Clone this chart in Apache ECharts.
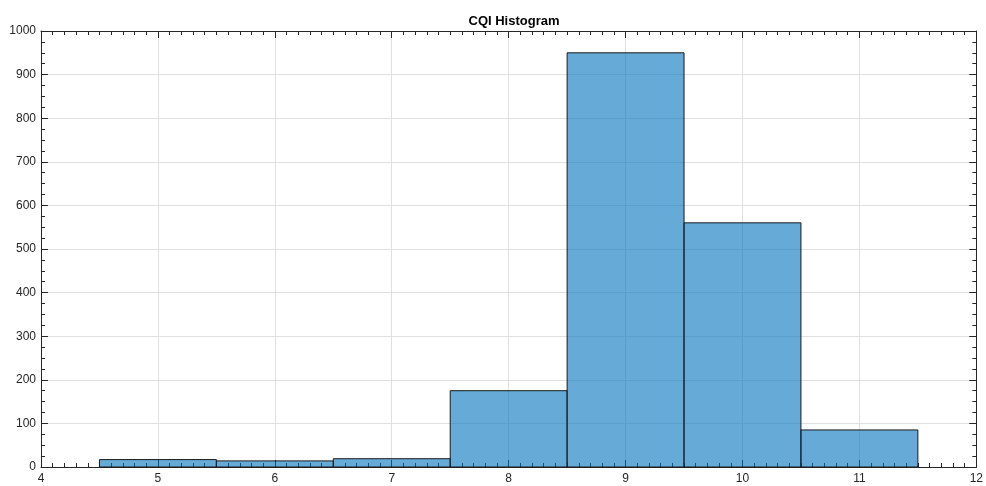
<!DOCTYPE html>
<html>
<head>
<meta charset="utf-8">
<script src="https://cdn.jsdelivr.net/npm/echarts@6/dist/echarts.min.js"></script>
<style>html,body{margin:0;padding:0;background:#fff}#c{width:986px;height:486px}</style>
</head>
<body>
<div id="c"></div>
<script>
var binCenters = [5, 6, 7, 8, 9, 10, 11];
var counts = [17, 14, 19, 175, 950, 560, 85];
var binWidth = 1;
var xTicks = [4, 5, 6, 7, 8, 9, 10, 11, 12];
var yTicks = [0, 100, 200, 300, 400, 500, 600, 700, 800, 900, 1000];
var titleText = 'CQI Histogram';

var chart = echarts.init(document.getElementById('c'), null, {renderer: 'canvas'});
var axisColor = '#262626';
var gridColor = '#e0e0e0';
var font = 'Helvetica, Arial, "Liberation Sans", sans-serif';

function baseX(show) {
  return {
    type: 'value', min: xTicks[0], max: xTicks[xTicks.length - 1], interval: 1,
    axisLine: {show: true, onZero: false, lineStyle: {color: axisColor, width: 1}},
    axisTick: {show: true, inside: true, length: 7, lineStyle: {color: axisColor}},
    minorTick: {show: true, splitNumber: 10, length: 4, lineStyle: {color: axisColor}},
    axisLabel: {show: show, color: axisColor, fontSize: 12, fontFamily: font, margin: 6,
      formatter: function (v) { return String(v); }},
    splitLine: {show: show, lineStyle: {color: gridColor, width: 1}}
  };
}
function baseY(show) {
  return {
    type: 'value', min: yTicks[0], max: yTicks[yTicks.length - 1], interval: 100,
    axisLine: {show: true, onZero: false, lineStyle: {color: axisColor, width: 1}},
    axisTick: {show: true, inside: true, length: 7, lineStyle: {color: axisColor}},
    minorTick: {show: true, splitNumber: 4, length: 4, lineStyle: {color: axisColor}},
    axisLabel: {show: show, color: axisColor, fontSize: 12, fontFamily: font, margin: 5,
      formatter: function (v) { return String(v); }},
    splitLine: {show: show, lineStyle: {color: gridColor, width: 1}}
  };
}

var xTop = baseX(false); xTop.position = 'top';
var yRight = baseY(false); yRight.position = 'right';
var xBottom = baseX(true); xBottom.position = 'bottom';
var yLeft = baseY(true); yLeft.position = 'left';

var data = binCenters.map(function (c, i) { return [c, counts[i]]; });

chart.setOption({
  animation: false,
  backgroundColor: '#ffffff',
  title: {
    text: titleText, left: 509, top: 10, textAlign: 'center',
    textStyle: {fontSize: 13, fontWeight: 'bold', color: '#000', fontFamily: font}
  },
  grid: {left: 41, right: 9, top: 31, bottom: 19, containLabel: false},
  xAxis: [xBottom, xTop],
  yAxis: [yLeft, yRight],
  series: [{
    type: 'custom',
    xAxisIndex: 0, yAxisIndex: 0,
    data: data,
    z: 1,
    renderItem: function (params, api) {
      var c = api.value(0), v = api.value(1);
      var p1 = api.coord([c - binWidth / 2, v]);
      var p2 = api.coord([c + binWidth / 2, 0]);
      return {
        type: 'rect',
        shape: {x: p1[0], y: p1[1], width: p2[0] - p1[0], height: p2[1] - p1[1]},
        style: {fill: 'rgba(0,114,189,0.6)', stroke: '#1a1a1a', lineWidth: 1}
      };
    }
  }]
});
</script>
</body>
</html>
